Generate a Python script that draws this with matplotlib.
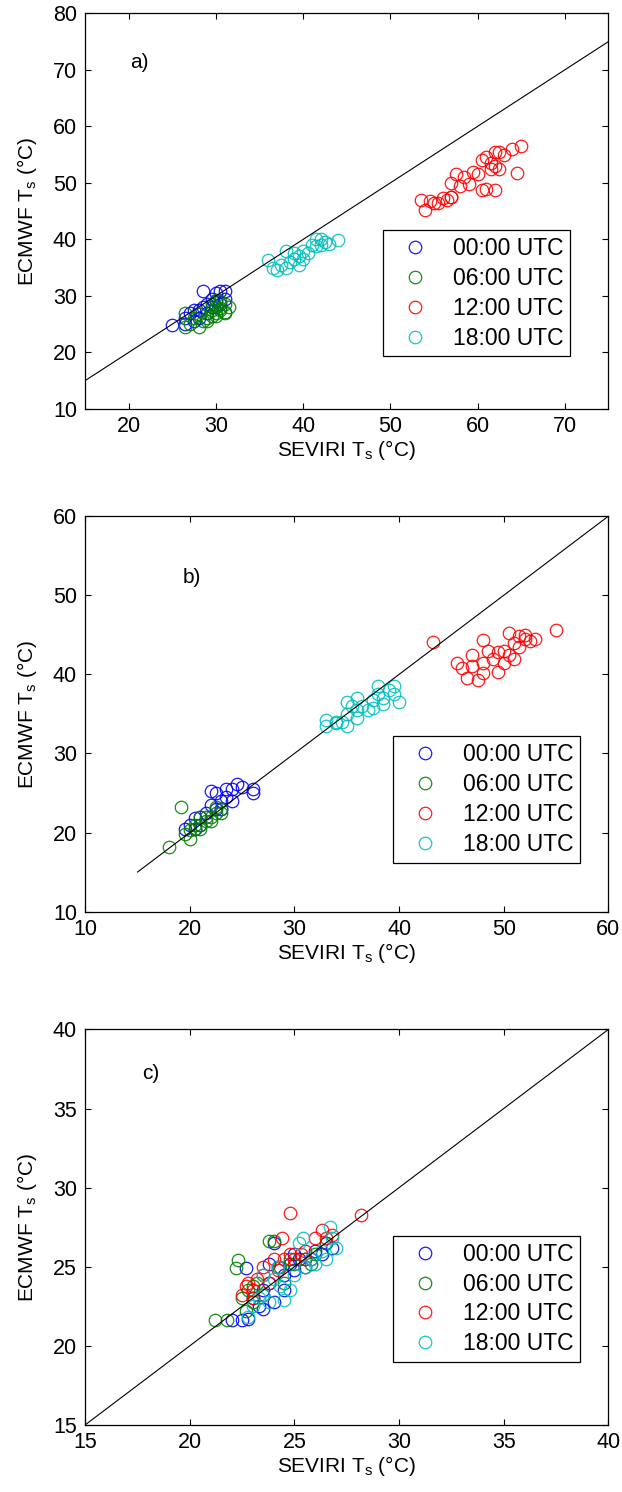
import matplotlib
matplotlib.use('Agg')
import matplotlib.pyplot as plt

plt.rcParams['font.family'] = ['Liberation Sans', 'DejaVu Sans']
plt.rcParams['mathtext.fontset'] = 'custom'
plt.rcParams['mathtext.rm'] = 'Liberation Sans'

series_labels = ['00:00 UTC', '06:00 UTC', '12:00 UTC', '18:00 UTC']
series_colors = ['#0000ff', '#008000', '#ff0000', '#00bfbf']

# panel a
a_x00 = [25, 26.5, 27, 28, 28.5, 29, 29.5, 30, 30.5, 31, 30, 29, 28, 27.5, 26.5, 30.5, 31, 29.5, 27.5, 28.5]
a_y00 = [24.8, 26, 27, 27.5, 30.8, 28.5, 28, 30.5, 30.8, 30.8, 29, 27, 26, 25.5, 25, 28.5, 29.5, 29.5, 27.5, 28]
a_x06 = [26.5, 27, 26.5, 28, 28.5, 29, 29.5, 30, 30.5, 31, 31.5, 30, 29.5, 30.5, 31, 28, 27.5, 29, 30, 30.5, 31, 29.5, 30]
a_y06 = [27, 25, 24.5, 24.5, 25.5, 26, 26.5, 27, 27.5, 27, 28, 28, 27.5, 29, 28.5, 26.8, 26, 25.5, 26.5, 27.8, 27.2, 28.5, 29.3]
a_x12 = [53.5, 54, 54.5, 55, 55.5, 56, 57, 57, 57.5, 58, 58.5, 59, 59.5, 60, 60.5, 61, 61, 61.5, 62, 62, 62.5, 62,
         63, 64, 65, 64.5, 62.5, 61.5, 60.5, 57, 56.5]
a_y12 = [47, 45.2, 46.8, 46.5, 46.5, 47.3, 47.5, 50, 51.5, 49.5, 51, 49.8, 52, 51.5, 54, 49, 54.5, 52.5, 55.5, 53, 52.5, 48.8,
         55, 56, 56.5, 51.8, 55.5, 53.5, 48.8, 47.5, 47]
a_x18 = [36, 36.5, 37, 37.5, 38, 38.5, 38, 39, 39.5, 39.5, 40, 40, 40.5, 41, 41.5, 42, 42, 42.5, 43, 44, 41.5, 39]
a_y18 = [36.3, 35, 34.5, 35.5, 38, 36, 35, 36.5, 37, 35.5, 38, 36.5, 37.5, 39, 38.8, 40, 39, 39.5, 39.2, 39.8, 40, 37.5]

# panel b
b_x00 = [19.5, 20, 20.5, 21, 21.5, 22, 22.5, 23, 23.5, 24, 24.5, 25, 26, 26, 22, 23, 24, 20.5, 22.5, 23.5, 21]
b_y00 = [20.5, 21, 21.8, 22, 22.5, 25.2, 23, 24, 24.5, 25.5, 26.2, 25.8, 25.5, 25, 23.5, 23, 24, 20.5, 25, 25.5, 21]
b_x06 = [18, 19.2, 19.5, 20, 20.5, 21, 21.5, 22, 22.5, 23, 21, 20, 21.5, 22, 23, 21, 20.5, 22.5]
b_y06 = [18.2, 23.2, 19.8, 19.2, 20.5, 21, 21.5, 22, 22.5, 22.5, 20.5, 20.3, 22, 21.5, 23, 22, 21, 23.2]
b_x12 = [43.2, 45.5, 46, 46.5, 47, 47, 47.5, 48, 48, 48.5, 48, 49, 49.5, 50, 50.5, 50.5, 51, 51, 51.5, 52, 52, 51.5,
         52.5, 53, 55, 49.5, 50]
b_y12 = [44.1, 41.5, 40.8, 39.5, 41, 42.5, 39.3, 41.5, 44.3, 43, 40.2, 42, 40.3, 43, 45.2, 42.5, 42, 44, 43.5, 44.5, 45, 44.8,
         44.2, 44.5, 45.6, 42.8, 41.5]
b_x18 = [33, 33, 34, 34.5, 35, 35, 35, 35.5, 36, 36, 36.5, 36, 37, 37.5, 37.5, 38, 38, 38.5, 39, 39.5, 39.5, 40, 38.5, 34]
b_y18 = [33.5, 34.2, 33.8, 34, 33.5, 35, 36.5, 36, 35.5, 37, 36, 34.5, 35.5, 35.8, 36.8, 37.5, 38.5, 37, 38, 38.5, 37.5, 36.5,
         36.3, 34]

# panel c
c_x00 = [22, 22.5, 22.8, 23, 23.3, 23.5, 23.8, 24, 24.2, 24.5, 24.8, 25, 25.2, 25.5, 25.8, 26, 26.3, 26.5, 26.8, 24, 23.8,
         22.7, 24.5, 23.5, 25]
c_y00 = [21.6, 21.6, 21.7, 23, 22.5, 23.5, 24, 22.8, 25, 24.5, 25.2, 24.8, 25.5, 25, 25.5, 26, 25.8, 26.5, 26.2, 26.5, 25.2,
         24.9, 23.5, 22.3, 25.8]
c_x06 = [21.2, 21.8, 22.3, 22.2, 22.5, 22.8, 23, 23.2, 23.5, 23.8, 24, 24.3, 24.5, 25, 25.5, 26, 26.5, 23, 22.7, 24.8, 25.8]
c_y06 = [21.6, 21.6, 25.4, 24.9, 23, 23.5, 22.8, 24, 23.2, 26.6, 26.6, 25, 24, 25.2, 25.5, 25.8, 26.5, 23.8, 22.2, 25.5, 25.2]
c_x12 = [22.5, 22.8, 23, 23.2, 23.5, 23.8, 24, 24.2, 24.5, 24.8, 24.8, 25, 25.3, 25.5, 26, 26.3, 26.5, 26.8, 28.2, 23, 22.7,
         24.4, 25.5, 23.5]
c_y12 = [23.2, 24, 23.5, 24.2, 24.5, 24, 25.5, 24.8, 25.5, 25.8, 28.4, 25.5, 25.8, 26, 26.8, 27.3, 26.8, 27, 28.3, 23, 23.8,
         26.8, 25.5, 25]
c_x18 = [22.8, 23, 23.3, 23.5, 23.8, 24, 24.3, 24.5, 24.8, 25, 25.2, 25.5, 25.8, 26, 26.3, 26.5, 26.7, 27, 26.8, 24.2, 23.5, 25.4]
c_y18 = [21.8, 22.5, 23, 23.2, 22.8, 24.2, 23.8, 22.9, 23.5, 24.5, 26.5, 25, 25.5, 25.2, 26, 25.5, 27.5, 26.2, 26.8, 25, 24.5, 26.8]

panels = [
    dict(data=[(a_x00, a_y00), (a_x06, a_y06), (a_x12, a_y12), (a_x18, a_y18)],
         lim=(15, 75), ylim=(10, 80), xticks=range(20, 71, 10), yticks=range(10, 81, 10),
         line=(15, 75), tag='a)', tagpos=(20.2, 71.3), legpos=(0.927, 0.452)),
    dict(data=[(b_x00, b_y00), (b_x06, b_y06), (b_x12, b_y12), (b_x18, b_y18)],
         lim=(10, 60), ylim=(10, 60), xticks=range(10, 61, 10), yticks=range(10, 61, 10),
         line=(15, 60), tag='b)', tagpos=(19.3, 52.3), legpos=(0.946, 0.443)),
    dict(data=[(c_x00, c_y00), (c_x06, c_y06), (c_x12, c_y12), (c_x18, c_y18)],
         lim=(15, 40), ylim=(15, 40), xticks=range(15, 41, 5), yticks=range(15, 41, 5),
         line=(15, 40), tag='c)', tagpos=(17.7, 37.2), legpos=(0.946, 0.478)),
]

fig = plt.figure(figsize=(6.22, 14.92), dpi=100)
bottoms = [0.726, 0.389, 0.045]

for p, bottom in zip(panels, bottoms):
    ax = fig.add_axes([0.137, bottom, 0.841, 0.265])
    handles = []
    for (xs, ys), c, lab in zip(p['data'], series_colors, series_labels):
        h, = ax.plot(xs, ys, 'o', mfc='none', mec=c, ms=9, mew=0.9, label=lab, alpha=0.9)
        handles.append(h)
    ax.plot(p['line'], p['line'], color='black', lw=0.8)
    ax.set_xlim(p['lim'])
    ax.set_ylim(p['ylim'])
    ax.set_xticks(list(p['xticks']))
    ax.set_yticks(list(p['yticks']))
    ax.tick_params(axis='both', direction='in', top=True, right=True, labelsize=15.5, length=4, width=0.8)
    ax.tick_params(axis='x', pad=5)
    ax.tick_params(axis='y', pad=6)
    for s in ax.spines.values():
        s.set_linewidth(0.9)
    ax.set_xlabel(r'SEVIRI T$_\mathregular{s}$ (°C)', fontsize=15, labelpad=1)
    ax.set_ylabel(r'ECMWF T$_\mathregular{s}$ (°C)', fontsize=15, labelpad=10)
    ax.text(p['tagpos'][0], p['tagpos'][1], p['tag'], fontsize=15, va='center', ha='left')
    leg = ax.legend(handles=handles, loc='upper right', bbox_to_anchor=p['legpos'], borderaxespad=0,
                    fontsize=16.5, fancybox=False, framealpha=1, edgecolor='black', markerscale=1.0,
                    handletextpad=0.55, handlelength=2.2, labelspacing=0.3, borderpad=0.3)
    leg.get_frame().set_linewidth(0.9)

fig.savefig('out.png', dpi=100)
